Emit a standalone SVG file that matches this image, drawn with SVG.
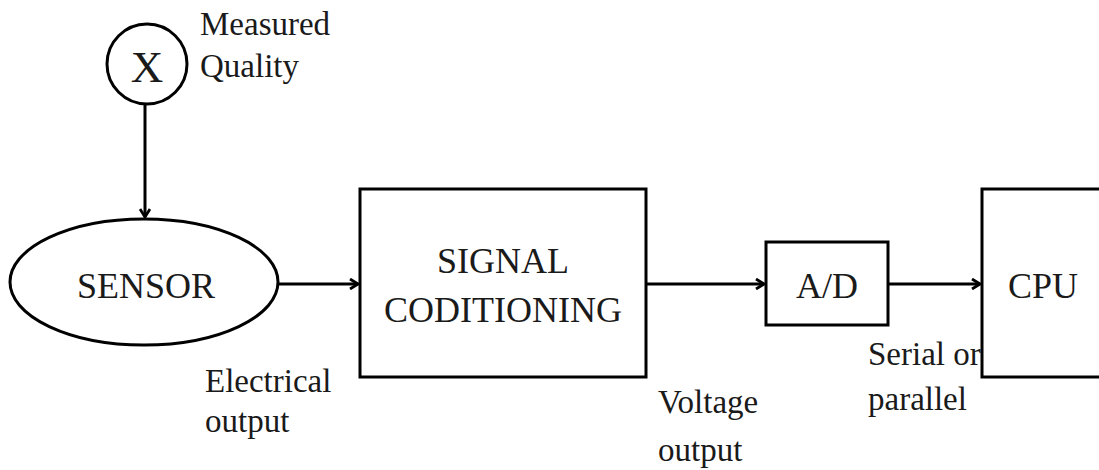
<svg xmlns="http://www.w3.org/2000/svg" width="1099" height="470" viewBox="0 0 1099 470">
<defs>
<style>
.shape{fill:#fff;stroke:#000;stroke-width:3}
.conn{fill:none;stroke:#000;stroke-width:3}
.lbl{font-family:"Liberation Serif","Times New Roman",serif;font-size:36px;fill:#1a1a1a;text-anchor:middle}
.ann{font-family:"Liberation Serif","Times New Roman",serif;font-size:33px;fill:#1a1a1a}
</style>
<marker id="arr" viewBox="0 0 12 12" refX="10" refY="6" markerWidth="12" markerHeight="12" markerUnits="userSpaceOnUse" orient="auto">
<path d="M2,1 L10,6 L2,11" fill="none" stroke="#000" stroke-width="2.8" stroke-linejoin="miter"/>
</marker>
</defs>
<rect width="1099" height="470" fill="#fff"/>
<g id="connectors">
<line class="conn" x1="145" y1="104" x2="145" y2="217" marker-end="url(#arr)"/>
<line class="conn" x1="278" y1="284" x2="358" y2="284" marker-end="url(#arr)"/>
<line class="conn" x1="646" y1="284" x2="764" y2="284" marker-end="url(#arr)"/>
<line class="conn" x1="888" y1="284" x2="980" y2="284" marker-end="url(#arr)"/>
</g>
<g id="measured">
<circle class="shape" cx="147" cy="64" r="40"/>
<text class="lbl" x="147" y="82" style="font-size:45px">X</text>
<text class="ann" x="200" y="35">Measured</text>
<text class="ann" x="200" y="77">Quality</text>
</g>
<g id="sensor">
<ellipse class="shape" cx="144" cy="282" rx="134" ry="63"/>
<text class="lbl" x="146" y="298">SENSOR</text>
<text class="ann" x="205" y="392">Electrical</text>
<text class="ann" x="205" y="432">output</text>
</g>
<g id="signal">
<rect class="shape" x="360" y="189" width="286" height="188"/>
<text class="lbl" x="503" y="273">SIGNAL</text>
<text class="lbl" x="503" y="322">CODITIONING</text>
<text class="ann" x="658" y="413">Voltage</text>
<text class="ann" x="658" y="461">output</text>
</g>
<g id="ad">
<rect class="shape" x="766" y="242" width="122" height="83"/>
<text class="lbl" x="827" y="298">A/D</text>
<text class="ann" x="868" y="365">Serial or</text>
<text class="ann" x="868" y="410">parallel</text>
</g>
<g id="cpu">
<rect class="shape" x="982" y="189" width="130" height="188"/>
<text class="lbl" x="1043" y="298">CPU</text>
</g>
</svg>
